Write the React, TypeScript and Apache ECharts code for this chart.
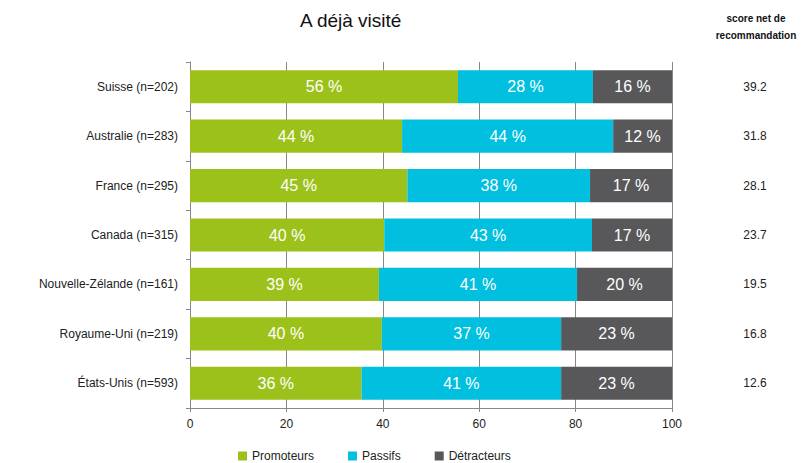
import React, { useEffect, useRef } from "react";
import * as echarts from "echarts";

const categories = [
  "Suisse (n=202)",
  "Australie (n=283)",
  "France (n=295)",
  "Canada (n=315)",
  "Nouvelle-Zélande (n=161)",
  "Royaume-Uni (n=219)",
  "États-Unis (n=593)",
];
const promoteurs = [55.6, 44.0, 45.1, 40.3, 39.2, 39.8, 35.6];
const passifs = [28.0, 43.8, 37.9, 43.1, 41.1, 37.2, 41.4];
const detracteurs = [16.4, 12.2, 17.0, 16.6, 19.7, 23.0, 23.0];
const nps = ["39.2", "31.8", "28.1", "23.7", "19.5", "16.8", "12.6"];
const xTicks = [0, 20, 40, 60, 80, 100];

const FONT = "Liberation Sans, Arial, sans-serif";

export default function App() {
  const ref = useRef<HTMLDivElement>(null);
  useEffect(() => {
    if (!ref.current) return;
    const chart = echarts.init(ref.current, null, { renderer: "svg" });
    const label = {
      show: true,
      color: "#ffffff",
      fontSize: 16,
      fontFamily: FONT,
      formatter: (p: any) => Math.round(p.value) + " %",
    };
    const mk = (name: string, data: number[], color: string) => ({
      name,
      type: "bar",
      stack: "total",
      data,
      barCategoryGap: "33%",
      itemStyle: { color },
      label,
    });
    chart.setOption({
      animation: false,
      textStyle: { fontFamily: FONT },
      grid: { left: 190, right: 132, top: 62, bottom: 55, containLabel: false },
      graphic: [
        {
          type: "text",
          left: 300,
          top: 11,
          style: { text: "A déjà visité", fontSize: 19, fill: "#111", fontFamily: FONT },
        },
        {
          type: "text",
          x: 756,
          y: 10,
          style: {
            text: "score net de\nrecommandation",
            fontSize: 10,
            lineHeight: 17,
            fill: "#111",
            fontFamily: FONT,
            align: "center",
            fontWeight: "bold",
          },
        },
      ],
      legend: {
        top: 445,
        left: 233,
        itemWidth: 9,
        itemHeight: 9,
        itemGap: 34,
        icon: "rect",
        textStyle: { fontSize: 12, color: "#222", fontFamily: FONT },
        data: ["Promoteurs", "Passifs", "Détracteurs"],
      },
      xAxis: {
        type: "value",
        min: 0,
        max: 100,
        interval: 20,
        axisLine: { show: true, lineStyle: { color: "#888" } },
        axisTick: { show: true, length: 4, lineStyle: { color: "#888" } },
        splitLine: { show: true, lineStyle: { color: "#888", width: 1 } },
        axisLabel: {
          fontSize: 12,
          color: "#222",
          margin: 10,
          formatter: (v: number) => (xTicks.includes(v) ? String(v) : ""),
        },
      },
      yAxis: [
        {
          type: "category",
          data: categories,
          inverse: true,
          axisLine: { show: true, lineStyle: { color: "#888" } },
          axisTick: { show: true, length: 4, lineStyle: { color: "#888" } },
          axisLabel: { fontSize: 12, color: "#222", margin: 12 },
        },
        {
          type: "category",
          data: nps,
          inverse: true,
          position: "right",
          axisLine: { show: false },
          axisTick: { show: false },
          axisLabel: { fontSize: 12, color: "#222", margin: 83, align: "center" },
        },
      ],
      series: [
        mk("Promoteurs", promoteurs, "#9dc11b"),
        mk("Passifs", passifs, "#00bfdf"),
        mk("Détracteurs", detracteurs, "#58585a"),
      ],
    });
    return () => chart.dispose();
  }, []);
  return <div ref={ref} style={{ width: 804, height: 463, position: "absolute", left: 0, top: 0 }} />;
}
